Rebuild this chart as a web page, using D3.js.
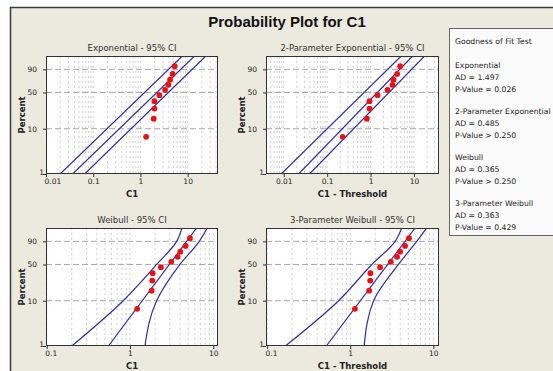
<!DOCTYPE html>
<html>
<head>
<meta charset="utf-8">
<script src="https://cdn.jsdelivr.net/npm/d3@7/dist/d3.min.js"></script>
<style>
  body { margin: 0; background: #fff; }
  svg text { font-family: "DejaVu Sans", sans-serif; fill: #222; }
</style>
</head>
<body>
<div id="chart"></div>
<script>
// plotting positions (median ranks, percent) shared by all four plots
const plotPercents = [6.7, 16.3, 26.0, 35.6, 45.2, 54.8, 64.4, 74.0, 83.7, 93.3];
const percentTicks = [1, 10, 50, 90];
const expTicks = [0.01, 0.1, 1, 10];
const weibullTicks = [0.1, 1, 10];

// C1
const expValues = [1.32, 1.91, 1.98, 1.98, 2.52, 3.33, 3.91, 4.25, 4.82, 5.32];
const exp2Values = [0.228, 0.822, 0.949, 0.949, 1.45, 2.46, 3.20, 3.37, 4.10, 4.81];
const weibullValues = [1.22, 1.82, 1.85, 1.87, 2.35, 3.13, 3.73, 4.02, 4.66, 5.25];
const weibull3Values = [1.14, 1.69, 1.74, 1.75, 2.29, 3.08, 3.66, 3.98, 4.57, 5.10];

// fitted lines and 95% CI bands (x value at each percent)
const linePercents = [1, 99];
const curvePercents = [1, 10, 50, 90, 99];

const expLower = [0.0199, 7.73];
const expFit = [0.0366, 14.0];
const expUpper = [0.0658, 24.3];

const exp2Lower = [0.00873, 5.09];
const exp2Fit = [0.0220, 9.31];
const exp2Upper = [0.0392, 17.6];

const weibullLower = [0.200, 0.83, 2.09, 3.63, 4.21];
const weibullFit = [0.55, 6.31];
const weibullUpper = [1.51, 2.09, 3.98, 6.79, 8.47];

const weibull3Lower = [0.166, 0.724, 1.82, 3.47, 4.17];
const weibull3Fit = [0.515, 6.03];
const weibull3Upper = [1.47, 1.91, 3.80, 6.31, 8.32];

// goodness of fit table
const gofNames = ['Exponential', '2-Parameter Exponential', 'Weibull', '3-Parameter Weibull'];
const gofAD = ['1.497', '0.485', '0.365', '0.363'];
const gofP = ['= 0.026', '> 0.250', '> 0.250', '= 0.429'];

const panels = [
  {title: 'Exponential - 95% CI', xLabel: 'C1', left: 46, top: 56, right: 218, bottom: 174,
   xDomain: [0.01, 44], xTicks: expTicks, values: expValues,
   bands: [[linePercents, expLower], [linePercents, expFit], [linePercents, expUpper]]},
  {title: '2-Parameter Exponential - 95% CI', xLabel: 'C1 - Threshold', left: 266, top: 56, right: 439, bottom: 174,
   xDomain: [0.0039, 37.8], xTicks: expTicks, values: exp2Values,
   bands: [[linePercents, exp2Lower], [linePercents, exp2Fit], [linePercents, exp2Upper]]},
  {title: 'Weibull - 95% CI', xLabel: 'C1', left: 46, top: 228, right: 218, bottom: 346,
   xDomain: [0.098, 11.4], xTicks: weibullTicks, values: weibullValues,
   bands: [[curvePercents, weibullLower], [linePercents, weibullFit], [curvePercents, weibullUpper]]},
  {title: '3-Parameter Weibull - 95% CI', xLabel: 'C1 - Threshold', left: 266, top: 228, right: 439, bottom: 346,
   xDomain: [0.097, 11.7], xTicks: weibullTicks, values: weibull3Values,
   bands: [[curvePercents, weibull3Lower], [linePercents, weibull3Fit], [curvePercents, weibull3Upper]]}
];

const width = 553, height = 371;
const wTrans = p => Math.log(-Math.log(1 - p / 100));

const svg = d3.select('#chart').append('svg')
    .attr('width', width)
    .attr('height', height);

// outer frame
svg.append('rect')
    .attr('x', 10.5).attr('y', 7.5)
    .attr('width', 620).attr('height', 420)
    .attr('fill', '#ece9df')
    .attr('stroke', '#3a3a3a')
    .attr('stroke-width', 1.5);

svg.append('text')
    .attr('x', 287).attr('y', 27)
    .attr('text-anchor', 'middle')
    .style('font-family', '"Liberation Sans", Arial, sans-serif')
    .style('font-weight', 'bold')
    .style('font-size', '15px')
    .style('fill', '#111')
    .text('Probability Plot for C1');

panels.forEach((cfg, pi) => {
  const g = svg.append('g');
  const x = d3.scaleLog().domain(cfg.xDomain).range([cfg.left, cfg.right]);
  const yW = d3.scaleLinear().domain([wTrans(1), wTrans(99)]).range([cfg.bottom, cfg.top]);
  const y = p => yW(wTrans(p));

  const clipId = 'clip' + pi;
  svg.append('clipPath').attr('id', clipId)
    .append('rect')
      .attr('x', cfg.left).attr('y', cfg.top)
      .attr('width', cfg.right - cfg.left).attr('height', cfg.bottom - cfg.top);

  g.append('rect')
      .attr('x', cfg.left).attr('y', cfg.top)
      .attr('width', cfg.right - cfg.left).attr('height', cfg.bottom - cfg.top)
      .attr('fill', '#fff');

  // vertical grid at 1..9 x 10^k
  const gridVals = [];
  const k0 = Math.floor(Math.log10(cfg.xDomain[0])), k1 = Math.ceil(Math.log10(cfg.xDomain[1]));
  for (let k = k0; k <= k1; k++) {
    for (let m = 1; m <= 9; m++) {
      const v = +(m * Math.pow(10, k)).toPrecision(6);
      if (v > cfg.xDomain[0] && v < cfg.xDomain[1]) gridVals.push(v);
    }
  }
  g.selectAll('.vgrid').data(gridVals).join('line')
      .attr('class', 'vgrid')
      .attr('x1', d => x(d)).attr('x2', d => x(d))
      .attr('y1', cfg.top).attr('y2', cfg.bottom)
      .attr('stroke', '#cfcfcf')
      .attr('stroke-width', 1)
      .attr('stroke-dasharray', '2,3');

  g.selectAll('.hgrid').data(percentTicks.slice(1)).join('line')
      .attr('class', 'hgrid')
      .attr('x1', cfg.left).attr('x2', cfg.right)
      .attr('y1', d => y(d)).attr('y2', d => y(d))
      .attr('stroke', '#a8a8a8')
      .attr('stroke-width', 1)
      .attr('stroke-dasharray', '6,3');

  const line = d3.line()
      .x(d => x(d[1]))
      .y(d => y(d[0]))
      .curve(d3.curveMonotoneY);

  const clipped = g.append('g').attr('clip-path', `url(#${clipId})`);
  cfg.bands.forEach(([pcts, vals]) => {
    clipped.append('path')
        .datum(pcts.map((p, i) => [p, vals[i]]))
        .attr('d', line)
        .attr('fill', 'none')
        .attr('stroke', '#2e2eb2')
        .attr('stroke-width', 1.2);
  });

  clipped.selectAll('circle').data(cfg.values).join('circle')
      .attr('cx', d => x(d))
      .attr('cy', (d, i) => y(plotPercents[i]))
      .attr('r', 2.9)
      .attr('fill', '#ee1010');

  g.append('rect')
      .attr('x', cfg.left + 0.5).attr('y', cfg.top + 0.5)
      .attr('width', cfg.right - cfg.left - 1).attr('height', cfg.bottom - cfg.top - 1)
      .attr('fill', 'none')
      .attr('stroke', '#333');

  // axes
  const yAxis = g.append('g')
      .attr('transform', `translate(${cfg.left},0)`)
      .call(d3.axisLeft(yW)
        .tickValues(percentTicks.map(wTrans))
        .tickFormat((d, i) => percentTicks[i])
        .tickSize(3).tickPadding(6));
  yAxis.select('.domain').remove();
  yAxis.selectAll('line').attr('stroke', '#333');
  yAxis.selectAll('text').style('font-size', '7.5px').attr('font-family', null);
  yAxis.selectAll('text').filter((d, i) => i === 0)
      .attr('x', -2).attr('dy', '0.1em');

  const xAxis = g.append('g')
      .attr('transform', `translate(0,${cfg.bottom})`)
      .call(d3.axisBottom(x)
        .tickValues(cfg.xTicks)
        .tickFormat(d => String(d))
        .tickSize(3).tickPadding(2));
  xAxis.select('.domain').remove();
  xAxis.selectAll('line').attr('stroke', '#333');
  xAxis.selectAll('text').style('font-size', '7.5px').attr('font-family', null);
  xAxis.selectAll('text').filter(d => x(d) - cfg.left < 3)
      .attr('text-anchor', 'start').attr('x', -2);

  g.append('text')
      .attr('x', (cfg.left + cfg.right) / 2).attr('y', cfg.top - 5)
      .attr('text-anchor', 'middle')
      .style('font-size', '8.5px')
      .style('fill', '#333')
      .text(cfg.title);

  g.append('text')
      .attr('x', (cfg.left + cfg.right) / 2).attr('y', cfg.bottom + 23)
      .attr('text-anchor', 'middle')
      .style('font-size', '8.5px')
      .style('font-weight', 'bold')
      .text(cfg.xLabel);

  g.append('text')
      .attr('transform', `translate(${cfg.left - 21},${(cfg.top + cfg.bottom) / 2}) rotate(-90)`)
      .attr('text-anchor', 'middle')
      .style('font-size', '8.5px')
      .style('font-weight', 'bold')
      .text('Percent');
});

// goodness of fit box
const legend = svg.append('g');
legend.append('rect')
    .attr('x', 449.5).attr('y', 28.5)
    .attr('width', 130).attr('height', 207)
    .attr('fill', '#fbfbfb')
    .attr('stroke', '#666');

legend.append('text')
    .attr('x', 455).attr('y', 44)
    .style('font-size', '7.7px')
    .text('Goodness of Fit Test');

gofNames.forEach((name, i) => {
  const y0 = 68 + i * 46;
  [name, 'AD = ' + gofAD[i], 'P-Value ' + gofP[i]].forEach((t, j) => {
    legend.append('text')
        .attr('x', 455).attr('y', y0 + j * 12)
        .style('font-size', '7.7px')
        .text(t);
  });
});
</script>
</body>
</html>
